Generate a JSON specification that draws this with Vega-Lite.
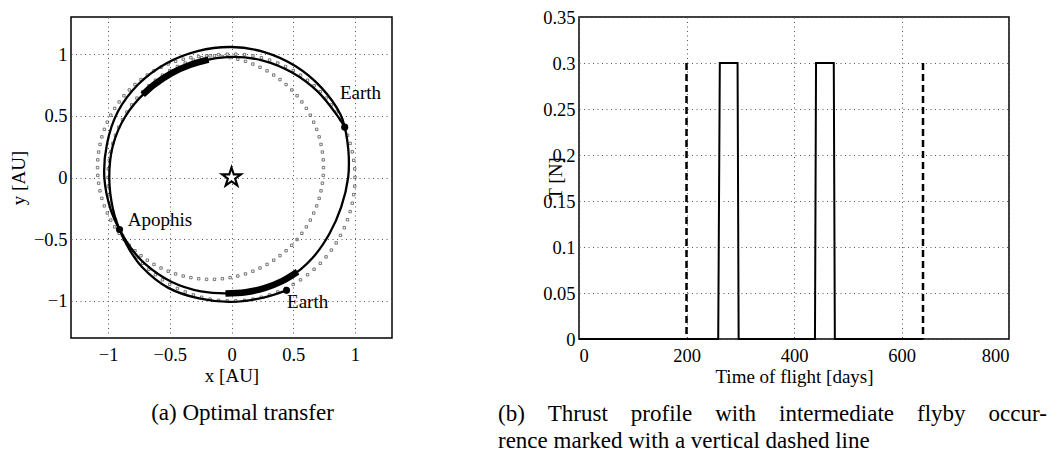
{
  "$schema": "https://vega.github.io/schema/vega-lite/v6.json",
  "background": "white",
  "padding": {"left": 8, "top": 7, "right": 5, "bottom": 5},
  "bounds": "flush",
  "spacing": 187,
  "config": {
    "font": "Liberation Serif",
    "view": {"stroke": "black", "strokeWidth": 1.5},
    "axis": {
      "domain": false,
      "ticks": false,
      "grid": true,
      "gridColor": "#555555",
      "gridDash": [1, 3.5],
      "gridWidth": 1,
      "labelFont": "Liberation Serif",
      "labelFontSize": 18.5,
      "labelColor": "black",
      "titleFont": "Liberation Serif",
      "titleFontSize": 19,
      "titleFontWeight": "normal",
      "titleColor": "black"
    },
    "title": {"font": "Liberation Serif", "fontSize": 23, "fontWeight": "normal", "color": "black"}
  },
  "datasets": {
    "earthOrbit": [
      {"x":1,"y":0},{"x":-1,"y":0},
      {"x":0.998,"y":0.07},{"x":-0.998,"y":0.07},{"x":-0.998,"y":-0.07},{"x":0.998,"y":-0.07},
      {"x":0.99,"y":0.139},{"x":-0.99,"y":0.139},{"x":-0.99,"y":-0.139},{"x":0.99,"y":-0.139},
      {"x":0.978,"y":0.208},{"x":-0.978,"y":0.208},{"x":-0.978,"y":-0.208},{"x":0.978,"y":-0.208},
      {"x":0.961,"y":0.276},{"x":-0.961,"y":0.276},{"x":-0.961,"y":-0.276},{"x":0.961,"y":-0.276},
      {"x":0.94,"y":0.342},{"x":-0.94,"y":0.342},{"x":-0.94,"y":-0.342},{"x":0.94,"y":-0.342},
      {"x":0.914,"y":0.407},{"x":-0.914,"y":0.407},{"x":-0.914,"y":-0.407},{"x":0.914,"y":-0.407},
      {"x":0.883,"y":0.469},{"x":-0.883,"y":0.469},{"x":-0.883,"y":-0.469},{"x":0.883,"y":-0.469},
      {"x":0.848,"y":0.53},{"x":-0.848,"y":0.53},{"x":-0.848,"y":-0.53},{"x":0.848,"y":-0.53},
      {"x":0.809,"y":0.588},{"x":-0.809,"y":0.588},{"x":-0.809,"y":-0.588},{"x":0.809,"y":-0.588},
      {"x":0.766,"y":0.643},{"x":-0.766,"y":0.643},{"x":-0.766,"y":-0.643},{"x":0.766,"y":-0.643},
      {"x":0.719,"y":0.695},{"x":-0.719,"y":0.695},{"x":-0.719,"y":-0.695},{"x":0.719,"y":-0.695},
      {"x":0.669,"y":0.743},{"x":-0.669,"y":0.743},{"x":-0.669,"y":-0.743},{"x":0.669,"y":-0.743},
      {"x":0.616,"y":0.788},{"x":-0.616,"y":0.788},{"x":-0.616,"y":-0.788},{"x":0.616,"y":-0.788},
      {"x":0.559,"y":0.829},{"x":-0.559,"y":0.829},{"x":-0.559,"y":-0.829},{"x":0.559,"y":-0.829},
      {"x":0.5,"y":0.866},{"x":-0.5,"y":0.866},{"x":-0.5,"y":-0.866},{"x":0.5,"y":-0.866},
      {"x":0.438,"y":0.899},{"x":-0.438,"y":0.899},{"x":-0.438,"y":-0.899},{"x":0.438,"y":-0.899},
      {"x":0.375,"y":0.927},{"x":-0.375,"y":0.927},{"x":-0.375,"y":-0.927},{"x":0.375,"y":-0.927},
      {"x":0.309,"y":0.951},{"x":-0.309,"y":0.951},{"x":-0.309,"y":-0.951},{"x":0.309,"y":-0.951},
      {"x":0.242,"y":0.97},{"x":-0.242,"y":0.97},{"x":-0.242,"y":-0.97},{"x":0.242,"y":-0.97},
      {"x":0.174,"y":0.985},{"x":-0.174,"y":0.985},{"x":-0.174,"y":-0.985},{"x":0.174,"y":-0.985},
      {"x":0.105,"y":0.995},{"x":-0.105,"y":0.995},{"x":-0.105,"y":-0.995},{"x":0.105,"y":-0.995},
      {"x":0.035,"y":0.999},{"x":-0.035,"y":0.999},{"x":-0.035,"y":-0.999},{"x":0.035,"y":-0.999}
    ],
    "apophisOrbit": [
      {"x":0.745,"y":0.08},{"x":-1.085,"y":0.08},
      {"x":0.743,"y":0.143},{"x":-1.083,"y":0.143},{"x":-1.083,"y":0.017},{"x":0.743,"y":0.017},
      {"x":0.736,"y":0.206},{"x":-1.076,"y":0.206},{"x":-1.076,"y":-0.046},{"x":0.736,"y":-0.046},
      {"x":0.725,"y":0.268},{"x":-1.065,"y":0.268},{"x":-1.065,"y":-0.108},{"x":0.725,"y":-0.108},
      {"x":0.71,"y":0.329},{"x":-1.05,"y":0.329},{"x":-1.05,"y":-0.169},{"x":0.71,"y":-0.169},
      {"x":0.69,"y":0.39},{"x":-1.03,"y":0.39},{"x":-1.03,"y":-0.23},{"x":0.69,"y":-0.23},
      {"x":0.666,"y":0.448},{"x":-1.006,"y":0.448},{"x":-1.006,"y":-0.288},{"x":0.666,"y":-0.288},
      {"x":0.638,"y":0.505},{"x":-0.978,"y":0.505},{"x":-0.978,"y":-0.345},{"x":0.638,"y":-0.345},
      {"x":0.606,"y":0.56},{"x":-0.946,"y":0.56},{"x":-0.946,"y":-0.4},{"x":0.606,"y":-0.4},
      {"x":0.57,"y":0.612},{"x":-0.91,"y":0.612},{"x":-0.91,"y":-0.452},{"x":0.57,"y":-0.452},
      {"x":0.531,"y":0.662},{"x":-0.871,"y":0.662},{"x":-0.871,"y":-0.502},{"x":0.531,"y":-0.502},
      {"x":0.488,"y":0.709},{"x":-0.828,"y":0.709},{"x":-0.828,"y":-0.549},{"x":0.488,"y":-0.549},
      {"x":0.442,"y":0.753},{"x":-0.782,"y":0.753},{"x":-0.782,"y":-0.593},{"x":0.442,"y":-0.593},
      {"x":0.393,"y":0.793},{"x":-0.733,"y":0.793},{"x":-0.733,"y":-0.633},{"x":0.393,"y":-0.633},
      {"x":0.342,"y":0.83},{"x":-0.682,"y":0.83},{"x":-0.682,"y":-0.67},{"x":0.342,"y":-0.67},
      {"x":0.288,"y":0.864},{"x":-0.628,"y":0.864},{"x":-0.628,"y":-0.704},{"x":0.288,"y":-0.704},
      {"x":0.231,"y":0.893},{"x":-0.571,"y":0.893},{"x":-0.571,"y":-0.733},{"x":0.231,"y":-0.733},
      {"x":0.173,"y":0.919},{"x":-0.513,"y":0.919},{"x":-0.513,"y":-0.759},{"x":0.173,"y":-0.759},
      {"x":0.113,"y":0.941},{"x":-0.453,"y":0.941},{"x":-0.453,"y":-0.781},{"x":0.113,"y":-0.781},
      {"x":0.051,"y":0.958},{"x":-0.391,"y":0.958},{"x":-0.391,"y":-0.798},{"x":0.051,"y":-0.798},
      {"x":-0.011,"y":0.971},{"x":-0.329,"y":0.971},{"x":-0.329,"y":-0.811},{"x":-0.011,"y":-0.811},
      {"x":-0.074,"y":0.98},{"x":-0.266,"y":0.98},{"x":-0.266,"y":-0.82},{"x":-0.074,"y":-0.82},
      {"x":-0.138,"y":0.985},{"x":-0.202,"y":0.985},{"x":-0.202,"y":-0.825},{"x":-0.138,"y":-0.825}
    ],
    "trajectory": [
      {"leg":"1","i":1,"x":0.917,"y":0.408},
      {"leg":"1","i":2,"x":0.86,"y":0.497},
      {"leg":"1","i":3,"x":0.697,"y":0.697},
      {"leg":"1","i":4,"x":0.491,"y":0.85},
      {"leg":"1","i":5,"x":0.254,"y":0.947},
      {"leg":"1","i":6,"x":0,"y":0.977},
      {"leg":"1","i":7,"x":-0.252,"y":0.939},
      {"leg":"1","i":8,"x":-0.488,"y":0.844},
      {"leg":"1","i":9,"x":-0.694,"y":0.694},
      {"leg":"1","i":10,"x":-0.859,"y":0.496},
      {"leg":"1","i":11,"x":-0.961,"y":0.258},
      {"leg":"1","i":12,"x":-0.99,"y":0},
      {"leg":"1","i":13,"x":-0.96,"y":-0.257},
      {"leg":"1","i":14,"x":-0.907,"y":-0.421},
      {"leg":"1","i":15,"x":-0.829,"y":-0.58},
      {"leg":"1","i":16,"x":-0.725,"y":-0.725},
      {"leg":"1","i":17,"x":-0.515,"y":-0.892},
      {"leg":"1","i":18,"x":-0.263,"y":-0.98},
      {"leg":"1","i":19,"x":0,"y":-1.008},
      {"leg":"1","i":20,"x":0.26,"y":-0.972},
      {"leg":"1","i":21,"x":0.446,"y":-0.914},
      {"leg":"2","i":1,"x":-0.907,"y":-0.421},
      {"leg":"2","i":2,"x":-0.815,"y":-0.571},
      {"leg":"2","i":3,"x":-0.7,"y":-0.7},
      {"leg":"2","i":4,"x":-0.488,"y":-0.844},
      {"leg":"2","i":5,"x":-0.247,"y":-0.922},
      {"leg":"2","i":6,"x":0,"y":-0.938},
      {"leg":"2","i":7,"x":0.242,"y":-0.903},
      {"leg":"2","i":8,"x":0.468,"y":-0.81},
      {"leg":"2","i":9,"x":0.654,"y":-0.654},
      {"leg":"2","i":10,"x":0.792,"y":-0.458},
      {"leg":"2","i":11,"x":0.889,"y":-0.238},
      {"leg":"2","i":12,"x":0.945,"y":0},
      {"leg":"2","i":13,"x":0.95,"y":0.168},
      {"leg":"2","i":14,"x":0.937,"y":0.304},
      {"leg":"2","i":15,"x":0.917,"y":0.408},
      {"leg":"2","i":16,"x":0.883,"y":0.51},
      {"leg":"2","i":17,"x":0.728,"y":0.728},
      {"leg":"2","i":18,"x":0.52,"y":0.901},
      {"leg":"2","i":19,"x":0.272,"y":1.014},
      {"leg":"2","i":20,"x":0,"y":1.057},
      {"leg":"2","i":21,"x":-0.274,"y":1.024},
      {"leg":"2","i":22,"x":-0.533,"y":0.922},
      {"leg":"2","i":23,"x":-0.755,"y":0.755},
      {"leg":"2","i":24,"x":-0.921,"y":0.532},
      {"leg":"2","i":25,"x":-1.009,"y":0.27},
      {"leg":"2","i":26,"x":-1.03,"y":0},
      {"leg":"2","i":27,"x":-0.978,"y":-0.262},
      {"leg":"2","i":28,"x":-0.907,"y":-0.421}
    ],
    "thrustArcs": [
      {"arc":"1","i":1,"x":-0.186,"y":0.955},
      {"arc":"1","i":2,"x":-0.332,"y":0.913},
      {"arc":"1","i":3,"x":-0.488,"y":0.844},
      {"arc":"1","i":4,"x":-0.629,"y":0.75},
      {"arc":"1","i":5,"x":-0.719,"y":0.67},
      {"arc":"2","i":1,"x":-0.049,"y":-0.939},
      {"arc":"2","i":2,"x":0.114,"y":-0.929},
      {"arc":"2","i":3,"x":0.273,"y":-0.894},
      {"arc":"2","i":4,"x":0.41,"y":-0.84},
      {"arc":"2","i":5,"x":0.535,"y":-0.764}
    ],
    "bodies": [
      {"body":"Earth","x":0.917,"y":0.408},
      {"body":"Apophis","x":-0.907,"y":-0.421},
      {"body":"Earth","x":0.446,"y":-0.914}
    ],
    "bodyLabels": [
      {"label":"Earth","x":0.878,"y":0.637},
      {"label":"Apophis","x":-0.84,"y":-0.393},
      {"label":"Earth","x":0.45,"y":-1.054}
    ],
    "sun": [{"x":0,"y":0}],
    "thrustProfile": [
      {"day":0,"thrust":0},
      {"day":259,"thrust":0},
      {"day":262,"thrust":0.3},
      {"day":295,"thrust":0.3},
      {"day":297,"thrust":0},
      {"day":439,"thrust":0},
      {"day":441,"thrust":0.3},
      {"day":474,"thrust":0.3},
      {"day":476,"thrust":0},
      {"day":640,"thrust":0}
    ],
    "flybyMarks": [
      {"day":200,"thrust":0.3},
      {"day":640,"thrust":0.3}
    ]
  },
  "hconcat": [
    {
      "width": 321,
      "height": 321,
      "title": {"text": "(a) Optimal transfer", "orient": "bottom", "anchor": "middle", "frame": "group", "dx": 11, "offset": 17, "font": "Liberation Serif", "fontSize": 23},
      "layer": [
        {
          "data": {"name": "apophisOrbit"},
          "mark": {"type": "point", "shape": "square", "size": 6, "filled": false, "stroke": "#444444", "strokeWidth": 0.7, "opacity": 1},
          "encoding": {
            "x": {"field": "x", "type": "quantitative", "scale": {"domain": [-1.3, 1.3], "nice": false, "zero": false},
                  "axis": {"values": [-1, -0.5, 0, 0.5, 1], "format": ".1~f", "title": "x [AU]", "labelFont": "Liberation Serif", "titleFont": "Liberation Serif", "labelPadding": 7, "titleY": 37, "titleBaseline": "middle"}},
            "y": {"field": "y", "type": "quantitative", "scale": {"domain": [-1.3, 1.3], "nice": false, "zero": false},
                  "axis": {"values": [-1, -0.5, 0, 0.5, 1], "format": ".1~f", "title": "y [AU]", "labelFont": "Liberation Serif", "titleFont": "Liberation Serif", "labelPadding": 4, "titleX": -53, "titleY": 160.5, "titleBaseline": "middle"}}
          }
        },
        {
          "data": {"name": "earthOrbit"},
          "mark": {"type": "point", "shape": "square", "size": 6, "filled": false, "stroke": "#444444", "strokeWidth": 0.7, "opacity": 1},
          "encoding": {
            "x": {"field": "x", "type": "quantitative"},
            "y": {"field": "y", "type": "quantitative"}
          }
        },
        {
          "data": {"name": "trajectory"},
          "mark": {"type": "line", "interpolate": "catmull-rom", "color": "black", "strokeWidth": 2.3},
          "encoding": {
            "x": {"field": "x", "type": "quantitative"},
            "y": {"field": "y", "type": "quantitative"},
            "detail": {"field": "leg", "type": "nominal"},
            "order": {"field": "i", "type": "quantitative"}
          }
        },
        {
          "data": {"name": "thrustArcs"},
          "mark": {"type": "line", "interpolate": "catmull-rom", "color": "black", "strokeWidth": 6.5, "strokeCap": "butt"},
          "encoding": {
            "x": {"field": "x", "type": "quantitative"},
            "y": {"field": "y", "type": "quantitative"},
            "detail": {"field": "arc", "type": "nominal"},
            "order": {"field": "i", "type": "quantitative"}
          }
        },
        {
          "data": {"name": "bodies"},
          "mark": {"type": "point", "shape": "circle", "filled": true, "color": "black", "size": 50, "opacity": 1},
          "encoding": {
            "x": {"field": "x", "type": "quantitative"},
            "y": {"field": "y", "type": "quantitative"}
          }
        },
        {
          "data": {"name": "sun"},
          "mark": {"type": "point", "shape": "M0,-1L0.2245,-0.309L0.9511,-0.309L0.3633,0.118L0.5878,0.809L0,0.382L-0.5878,0.809L-0.3633,0.118L-0.9511,-0.309L-0.2245,-0.309Z", "size": 400, "filled": false, "fill": "white", "fillOpacity": 1, "stroke": "black", "strokeWidth": 2.1, "opacity": 1},
          "encoding": {
            "x": {"field": "x", "type": "quantitative"},
            "y": {"field": "y", "type": "quantitative"}
          }
        },
        {
          "data": {"name": "bodyLabels"},
          "mark": {"type": "text", "align": "left", "baseline": "alphabetic", "font": "Liberation Serif", "fontSize": 19, "color": "black"},
          "encoding": {
            "x": {"field": "x", "type": "quantitative"},
            "y": {"field": "y", "type": "quantitative"},
            "text": {"field": "label"}
          }
        }
      ]
    },
    {
      "width": 430,
      "height": 322,
      "title": {"text": ["(b)\u2003Thrust\u2003profile\u2003with\u2003intermediate\u2003flyby\u2003occur-", "rence marked with a vertical dashed line"], "orient": "bottom", "anchor": "start", "frame": "group", "align": "left", "dx": -81, "offset": 17, "lineHeight": 27, "font": "Liberation Serif", "fontSize": 23},
      "layer": [
        {
          "data": {"name": "thrustProfile"},
          "mark": {"type": "line", "color": "black", "strokeWidth": 2},
          "encoding": {
            "x": {"field": "day", "type": "quantitative", "scale": {"domain": [0, 800], "nice": false},
                  "axis": {"values": [0, 200, 400, 600, 800], "format": "d", "title": "Time of flight [days]", "labelFont": "Liberation Serif", "titleFont": "Liberation Serif", "labelPadding": 7, "titleY": 37, "titleBaseline": "middle"}},
            "y": {"field": "thrust", "type": "quantitative", "scale": {"domain": [0, 0.35], "nice": false},
                  "axis": {"values": [0, 0.05, 0.1, 0.15, 0.2, 0.25, 0.3, 0.35], "format": ".2~f", "title": "T [N]", "labelFont": "Liberation Serif", "titleFont": "Liberation Serif", "labelPadding": 4, "titleX": -24, "titleY": 161, "titleBaseline": "middle"}}
          }
        },
        {
          "data": {"name": "flybyMarks"},
          "mark": {"type": "rule", "color": "black", "strokeWidth": 2.5, "strokeDash": [7, 4]},
          "encoding": {
            "x": {"field": "day", "type": "quantitative"},
            "y": {"field": "thrust", "type": "quantitative"},
            "y2": {"datum": 0}
          }
        }
      ]
    }
  ]
}
